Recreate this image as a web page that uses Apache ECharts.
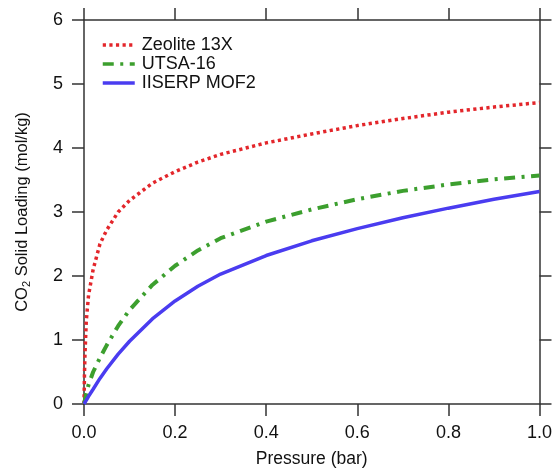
<!DOCTYPE html>
<html>
<head>
<meta charset="utf-8">
<script src="https://cdn.jsdelivr.net/npm/echarts@6/dist/echarts.min.js"></script>
<style>
  html, body { margin: 0; padding: 0; background: #fff; }
  #chart { width: 555px; height: 474px; }
</style>
</head>
<body>
<div id="chart"></div>
<script>
// CO2 adsorption isotherms: loading (mol/kg) versus pressure (bar)
const zeolitePressure = [0, 0.001, 0.002, 0.005, 0.01, 0.02, 0.035, 0.05, 0.075, 0.1, 0.15, 0.2, 0.25, 0.3, 0.4, 0.5, 0.6, 0.7, 0.8, 0.9, 1.0];
const zeoliteLoading  = [0, 0.45, 0.75, 1.3, 1.7, 2.1, 2.5, 2.72, 3.0, 3.18, 3.45, 3.63, 3.78, 3.9, 4.08, 4.22, 4.35, 4.46, 4.56, 4.64, 4.71];

const utsaPressure = [0, 0.005, 0.01, 0.02, 0.035, 0.05, 0.075, 0.1, 0.15, 0.2, 0.25, 0.3, 0.4, 0.5, 0.6, 0.7, 0.8, 0.9, 1.0];
const utsaLoading  = [0, 0.16, 0.3, 0.5, 0.72, 0.92, 1.22, 1.47, 1.86, 2.16, 2.4, 2.59, 2.85, 3.04, 3.2, 3.33, 3.43, 3.51, 3.57];

const mofPressure = [0, 0.01, 0.02, 0.035, 0.05, 0.075, 0.1, 0.15, 0.2, 0.25, 0.3, 0.4, 0.5, 0.6, 0.7, 0.8, 0.9, 1.0];
const mofLoading  = [0, 0.12, 0.23, 0.4, 0.55, 0.78, 0.98, 1.33, 1.61, 1.84, 2.03, 2.32, 2.55, 2.74, 2.91, 3.06, 3.2, 3.32];

const seriesNames = ['Zeolite 13X', 'UTSA-16', 'IISERP MOF2'];
const xTicks = { min: 0, max: 1, interval: 0.2 };
const yTicks = { min: 0, max: 6, interval: 1 };

const pair = (xs, ys) => xs.map((x, i) => [x, ys[i]]);

const FONT = 'Liberation Sans, Arial, Helvetica, sans-serif';
const AXIS_COLOR = '#333';

const axisCommon = {
  axisLine: { show: true, onZero: false, lineStyle: { color: AXIS_COLOR, width: 1.5 } },
  axisTick: { show: true, inside: false, length: 12, lineStyle: { color: AXIS_COLOR, width: 1.5 } },
  splitLine: { show: false }
};

const chart = echarts.init(document.getElementById('chart'), null, { renderer: 'canvas' });

chart.setOption({
  animation: false,
  backgroundColor: '#fff',
  textStyle: { fontFamily: FONT },
  grid: { left: 84, right: 11, top: 20, bottom: 70, containLabel: false },
  legend: {
    orient: 'vertical',
    left: 101,
    top: 36,
    padding: 0,
    itemWidth: 32,
    itemHeight: 12,
    itemGap: 1,
    itemStyle: { opacity: 0, borderWidth: 0 },
    lineStyle: { width: 3.5 },
    textStyle: { fontFamily: FONT, fontSize: 18, lineHeight: 18, color: '#111', padding: [0, 0, 0, 2] },
    data: seriesNames
  },
  xAxis: [
    Object.assign({
      type: 'value', position: 'bottom',
      min: xTicks.min, max: xTicks.max, interval: xTicks.interval,
      name: 'Pressure (bar)', nameLocation: 'middle', nameGap: 46,
      nameTextStyle: { fontFamily: FONT, fontSize: 17.5, color: '#111' },
      axisLabel: { margin: 20, fontFamily: FONT, fontSize: 18, color: '#111', formatter: v => v.toFixed(1) }
    }, axisCommon),
    Object.assign({
      type: 'value', position: 'top',
      min: xTicks.min, max: xTicks.max, interval: xTicks.interval,
      axisLabel: { show: false }
    }, axisCommon)
  ],
  yAxis: [
    Object.assign({
      type: 'value', position: 'left',
      min: yTicks.min, max: yTicks.max, interval: yTicks.interval,
      name: '{a|CO}{b|2}{a| Solid Loading (mol/kg)}',
      nameLocation: 'middle', nameRotate: 90, nameGap: 52,
      nameTextStyle: {
        color: '#111',
        rich: {
          a: { fontFamily: FONT, fontSize: 16.5, color: '#111', lineHeight: 20 },
          b: { fontFamily: FONT, fontSize: 11, color: '#111', lineHeight: 20, padding: [9, 0, 0, 0] }
        }
      },
      axisLabel: { margin: 21, fontFamily: FONT, fontSize: 18, color: '#111' }
    }, axisCommon),
    Object.assign({
      type: 'value', position: 'right',
      min: yTicks.min, max: yTicks.max, interval: yTicks.interval,
      axisLabel: { show: false }
    }, axisCommon)
  ],
  series: [
    {
      name: seriesNames[0], type: 'line', symbol: 'none', smooth: false,
      data: pair(zeolitePressure, zeoliteLoading),
      itemStyle: { color: '#e3262b' },
      lineStyle: { color: '#e3262b', width: 3.5, type: [3.2, 3.4], cap: 'butt' }
    },
    {
      name: seriesNames[1], type: 'line', symbol: 'none', smooth: false,
      data: pair(utsaPressure, utsaLoading),
      itemStyle: { color: '#3c9f2e' },
      lineStyle: { color: '#3c9f2e', width: 4, type: [11, 6.5, 3, 6.5], cap: 'butt' }
    },
    {
      name: seriesNames[2], type: 'line', symbol: 'none', smooth: false,
      data: pair(mofPressure, mofLoading),
      itemStyle: { color: '#4a3cf0' },
      lineStyle: { color: '#4a3cf0', width: 3.5, type: 'solid' }
    }
  ]
});
</script>
</body>
</html>
